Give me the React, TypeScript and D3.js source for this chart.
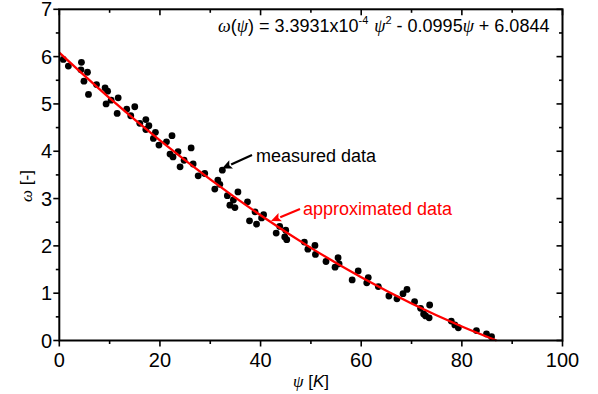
import React from 'react';
import * as d3 from 'd3';

const psiValues = [0.8,1.8,4.4,4.3,5.6,4.9,5.8,7.4,9.1,9.6,9.3,10.3,11.7,11.5,13.4,14.2,15.0,16.0,17.2,17.8,17.2,19.1,18.7,19.8,21.3,22.4,22.0,22.6,23.6,24.0,24.8,26.2,26.6,27.6,28.9,32.4,31.5,31.9,30.9,33.4,35.5,34.6,33.9,34.9,37.4,38.9,37.8,39.2,40.6,40.2,43.1,43.8,45.0,44.8,45.2,48.7,49.4,50.8,50.9,53.0,55.4,54.8,55.6,58.2,59.4,61.1,61.4,63.4,65.5,67.1,68.3,69.1,70.6,71.8,72.4,72.8,73.6,73.5,77.9,78.6,79.3,82.9,84.9,85.9];
const omegaValues = [5.94,5.80,5.88,5.72,5.67,5.48,5.20,5.41,5.34,5.27,5.00,5.08,5.13,4.80,4.89,4.75,4.94,4.59,4.67,4.54,4.46,4.40,4.27,4.13,4.20,4.33,3.94,3.88,3.99,3.67,3.81,4.07,3.73,3.48,3.53,3.60,3.39,3.30,3.20,3.06,3.14,2.97,2.86,2.81,2.93,2.72,2.53,2.46,2.66,2.59,2.27,2.41,2.33,2.19,2.13,2.08,1.93,2.01,1.82,1.67,1.75,1.55,1.62,1.28,1.47,1.22,1.33,1.14,0.94,0.88,0.99,1.08,0.82,0.68,0.56,0.52,0.75,0.48,0.41,0.33,0.27,0.21,0.14,0.08];

const fitPsi = [0,10,20,30,40,50,60,70,80,86.9];
const fitOmega = [6.084,5.123,4.230,3.405,2.647,1.958,1.336,0.782,0.296,0];

const xTicks = [0,20,40,60,80,100];
const xMinor = [10,30,50,70,90];
const yTicks = [0,1,2,3,4,5,6,7];
const yMinor = [0.5,1.5,2.5,3.5,4.5,5.5,6.5];

function Arrow({x1,y1,x2,y2,color}:{x1:number;y1:number;x2:number;y2:number;color:string}) {
  const a = Math.atan2(y2-y1,x2-x1);
  const L = 10, w = 4.5;
  const bx = x2 - L*Math.cos(a), by = y2 - L*Math.sin(a);
  const p1 = [bx + w*Math.sin(a), by - w*Math.cos(a)];
  const p2 = [bx - w*Math.sin(a), by + w*Math.cos(a)];
  return (
    <g>
      <line x1={x1} y1={y1} x2={bx} y2={by} stroke={color} strokeWidth={2.2}/>
      <path d={`M${x2},${y2}L${p1[0]},${p1[1]}L${bx+2*Math.cos(a)},${by+2*Math.sin(a)}L${p2[0]},${p2[1]}Z`} fill={color}/>
    </g>
  );
}

export default function App() {
  const W = 598, H = 394;
  const x = d3.scaleLinear().domain([0,100]).range([59.3,562.5]);
  const y = d3.scaleLinear().domain([0,7]).range([340.5,9.3]);
  const line = d3.line<number>().x((d,i)=>x(fitPsi[i])).y((d,i)=>y(fitOmega[i])).curve(d3.curveMonotoneX);
  const fitPath = line(fitOmega) || '';
  const x0 = x(0), x1 = x(100), y0 = y(0), y1 = y(7);
  const sans = 'Liberation Sans, Arial, sans-serif';
  const greek = 'Liberation Serif, serif';
  return (
    <svg width={W} height={H} style={{position:'absolute',left:0,top:0,background:'#fff'}} fontFamily={sans}>
      <rect x={0} y={0} width={W} height={H} fill="#fff"/>
      {/* data points */}
      {psiValues.map((p,i)=>(
        <circle key={i} cx={x(p)} cy={y(omegaValues[i])} r={3.4} fill="#000"/>
      ))}
      {/* fit line */}
      <path d={fitPath} fill="none" stroke="#f00" strokeWidth={2.3}/>
      {/* ticks */}
      <g stroke="#000" strokeWidth={1.6}>
        {xTicks.map(t=>(<g key={'xt'+t}>
          <line x1={x(t)} x2={x(t)} y1={y0} y2={y0+6}/>
          <line x1={x(t)} x2={x(t)} y1={y1} y2={y1+6}/>
        </g>))}
        {xMinor.map(t=>(<g key={'xm'+t}>
          <line x1={x(t)} x2={x(t)} y1={y0} y2={y0+3.5}/>
          <line x1={x(t)} x2={x(t)} y1={y1} y2={y1+3.5}/>
        </g>))}
        {yTicks.map(t=>(<g key={'yt'+t}>
          <line x1={x0-6} x2={x0} y1={y(t)} y2={y(t)}/>
          <line x1={x1-6} x2={x1} y1={y(t)} y2={y(t)}/>
        </g>))}
        {yMinor.map(t=>(<g key={'ym'+t}>
          <line x1={x0-3.5} x2={x0} y1={y(t)} y2={y(t)}/>
          <line x1={x1-3.5} x2={x1} y1={y(t)} y2={y(t)}/>
        </g>))}
      </g>
      {/* frame */}
      <rect x={x0} y={y1} width={x1-x0} height={y0-y1} fill="none" stroke="#000" strokeWidth={2}/>
      {/* tick labels */}
      {xTicks.map(t=>(
        <text key={'xl'+t} x={x(t)} y={367} fontSize={20} textAnchor="middle" fill="#000">{t}</text>
      ))}
      {yTicks.map(t=>(
        <text key={'yl'+t} x={52} y={y(t)+7} fontSize={20} textAnchor="end" fill="#000">{t}</text>
      ))}
      {/* axis titles */}
      <text x={311} y={387} fontSize={17} textAnchor="middle" fill="#000">
        <tspan fontFamily={greek} fontStyle="italic">ψ</tspan>
        <tspan> [</tspan><tspan fontStyle="italic">K</tspan><tspan>]</tspan>
      </text>
      <text transform="translate(32,186) rotate(-90)" fontSize={17} textAnchor="middle" fill="#000">
        <tspan fontFamily={greek} fontStyle="italic">ω</tspan>
        <tspan> [-]</tspan>
      </text>
      {/* equation */}
      <text x={218} y={32} fontSize={18} fill="#000">
        <tspan fontFamily={greek} fontStyle="italic">ω</tspan>
        <tspan>(</tspan>
        <tspan fontFamily={greek} fontStyle="italic">ψ</tspan>
        <tspan>) = 3.3931x10</tspan>
        <tspan fontSize={11} dy={-8}>-4</tspan>
        <tspan dy={8} dx={6} fontFamily={greek} fontStyle="italic">ψ</tspan>
        <tspan fontSize={11} dy={-8}>2</tspan>
        <tspan dy={8}> - 0.0995</tspan>
        <tspan fontFamily={greek} fontStyle="italic">ψ</tspan>
        <tspan> + 6.0844</tspan>
      </text>
      {/* annotations */}
      <Arrow x1={252} y1={155} x2={222} y2={168.5} color="#000"/>
      <text x={256} y={162} fontSize={18} fill="#000">measured data</text>
      <Arrow x1={300} y1={209} x2={271} y2={221} color="#f00"/>
      <text x={303} y={215} fontSize={18} fill="#f00">approximated data</text>
    </svg>
  );
}
